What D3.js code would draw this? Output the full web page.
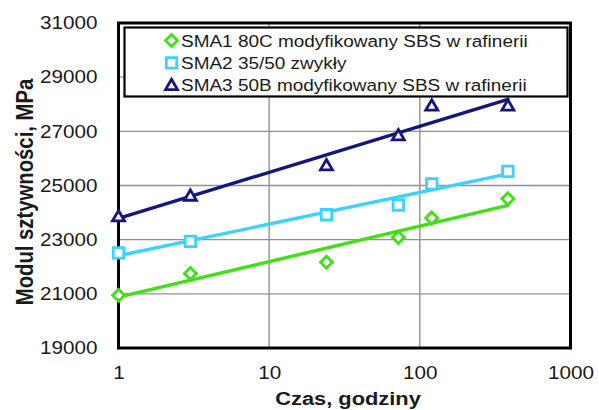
<!DOCTYPE html>
<html>
<head>
<meta charset="utf-8">
<script src="https://cdn.jsdelivr.net/npm/d3@7"></script>
<style>
  html, body { margin: 0; padding: 0; background: #fff; }
  svg { display: block; }
  text { font-family: "Liberation Sans", Arial, sans-serif; fill: #1a1a1a; }
</style>
</head>
<body>
<svg id="chart" width="599" height="410"></svg>
<script>
// Stiffness modulus vs. conditioning time (hours), three SMA mixes
const hours = [1, 3, 24, 72, 120, 384];
const sma1 = [20950, 21750, 22170, 23080, 23800, 24510];
const sma2 = [22510, 22940, 23920, 24280, 25060, 25520];
const sma3 = [23860, 24620, 25740, 26850, 27950, 27950];
const seriesNames = [
  "SMA1 80C modyfikowany SBS w rafinerii",
  "SMA2 35/50 zwykły",
  "SMA3 50B modyfikowany SBS w rafinerii"
];
const yTicks = [19000, 21000, 23000, 25000, 27000, 29000, 31000];
const xTicks = [1, 10, 100, 1000];
const xTitle = "Czas, godziny";
const yTitle = "Modul sztywności, MPa";

const series = [
  { name: seriesNames[0], values: sma1, color: "#3fe014", shape: "diamond" },
  { name: seriesNames[1], values: sma2, color: "#3cd2ff", shape: "square" },
  { name: seriesNames[2], values: sma3, color: "#15157f", shape: "triangle" }
];

const svg = d3.select("#chart");
const plot = { left: 118.5, right: 570.5, top: 23, bottom: 348 };
const sx = 1.15; // horizontal text stretch

const x = d3.scaleLog().domain([1, 1000]).range([plot.left, plot.right]);
const y = d3.scaleLinear().domain([19000, 31000]).range([plot.bottom, plot.top]);

// grid
const grid = svg.append("g").attr("stroke", "#8c9490").attr("stroke-width", 1.4);
grid.selectAll("line.h").data(yTicks.slice(1, -1)).join("line")
  .attr("x1", plot.left).attr("x2", plot.right)
  .attr("y1", d => y(d)).attr("y2", d => y(d));
grid.selectAll("line.v").data(xTicks.slice(1, -1)).join("line")
  .attr("x1", d => x(d)).attr("x2", d => x(d))
  .attr("y1", plot.top).attr("y2", plot.bottom);

// y axis labels
const yAxis = svg.append("g")
  .attr("transform", `translate(${plot.left},0)`)
  .call(d3.axisLeft(y).tickValues(yTicks).tickSize(0).tickPadding(0).tickFormat(d3.format("d")));
yAxis.select(".domain").remove();
yAxis.selectAll("text")
  .attr("x", -21 / sx)
  .attr("transform", `scale(${sx},1)`)
  .style("font-size", "18px")
  .attr("fill", "#1a1a1a");

// x axis labels
const xAxis = svg.append("g")
  .attr("transform", `translate(0,${plot.bottom})`)
  .call(d3.axisBottom(x).tickValues(xTicks).tickSize(0).tickPadding(0).tickFormat(d3.format("d")));
xAxis.select(".domain").remove();
xAxis.selectAll(".tick text")
  .attr("y", 18)
  .attr("transform", `scale(${sx},1)`)
  .style("font-size", "18px")
  .attr("fill", "#1a1a1a");

// logarithmic trend lines (least squares in ln(x))
function logFit(xs, ys) {
  const lx = xs.map(Math.log);
  const mx = d3.mean(lx), my = d3.mean(ys);
  let sxy = 0, sxx = 0;
  lx.forEach((v, i) => { sxy += (v - mx) * (ys[i] - my); sxx += (v - mx) * (v - mx); });
  const a = sxy / sxx;
  return t => a * Math.log(t) + (my - a * mx);
}

const line = d3.line().x(d => x(d[0])).y(d => y(d[1]));
const ends = d3.extent(hours);

series.forEach(s => {
  const f = logFit(hours, s.values);
  svg.append("path")
    .attr("d", line(ends.map(t => [t, f(t)])))
    .attr("fill", "none")
    .attr("stroke", s.color)
    .attr("stroke-width", 3.4)
    .attr("stroke-linecap", "round");
});

// marker shapes
function marker(g, shape, color) {
  if (shape === "diamond") {
    g.append("path")
      .attr("d", d3.symbol(d3.symbolSquare, 72)())
      .attr("transform", "rotate(45)");
  } else if (shape === "square") {
    g.append("path").attr("d", d3.symbol(d3.symbolSquare, 110)());
  } else {
    g.append("path").attr("d", d3.symbol(d3.symbolTriangle, 62)())
      .attr("transform", "translate(0,1)");
  }
  g.selectAll("path")
    .attr("fill", "#fff")
    .attr("stroke", color)
    .attr("stroke-width", 2.8)
    .attr("stroke-linejoin", "miter");
}

// plot frame
svg.append("rect")
  .attr("x", plot.left).attr("y", plot.top)
  .attr("width", plot.right - plot.left).attr("height", plot.bottom - plot.top)
  .attr("fill", "none").attr("stroke", "#000").attr("stroke-width", 3);

series.forEach(s => {
  svg.append("g").selectAll("g").data(hours.map((h, i) => [h, s.values[i]])).join("g")
    .attr("transform", d => `translate(${x(d[0])},${y(d[1])})`)
    .each(function () { marker(d3.select(this), s.shape, s.color); });
});

// legend
const legend = svg.append("g");
legend.append("rect")
  .attr("x", 124.5).attr("y", 27.5).attr("width", 443).attr("height", 69)
  .attr("fill", "#fff").attr("stroke", "#000").attr("stroke-width", 2.2);
series.forEach((s, i) => {
  const cy = 40.5 + i * 22.3;
  const g = legend.append("g").attr("transform", `translate(171.5,${cy})`);
  marker(g, s.shape, s.color);
  legend.append("text")
    .attr("transform", `translate(181,${cy + 6}) scale(${sx},1)`)
    .style("font-size", "16.5px")
    .text(s.name);
});

// axis titles
svg.append("text")
  .attr("transform", `translate(348,405) scale(${sx},1)`)
  .attr("text-anchor", "middle")
  .style("font-size", "19px").style("font-weight", "bold")
  .text(xTitle);
svg.append("text")
  .attr("transform", `translate(33,192) scale(${sx},1) rotate(-90)`)
  .attr("text-anchor", "middle")
  .style("font-size", "20.3px").style("font-weight", "bold")
  .text(yTitle);
</script>
</body>
</html>
